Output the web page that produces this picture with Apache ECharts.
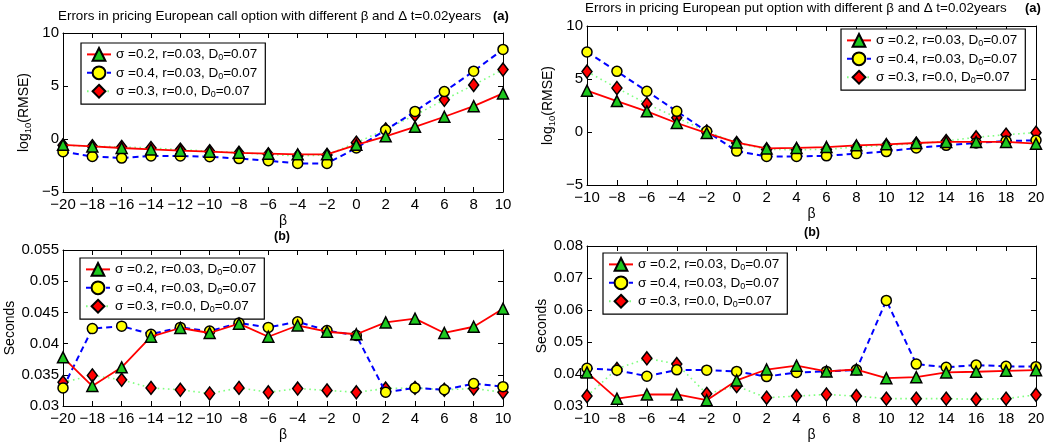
<!DOCTYPE html>
<html>
<head>
<meta charset="utf-8">
<script src="https://cdn.jsdelivr.net/npm/echarts@6/dist/echarts.min.js"></script>
<style>html,body{margin:0;padding:0;background:#fff}#c{width:1056px;height:443px}</style>
</head>
<body>
<div id="c"></div>
<script>
// ---- data ----
const betaCall = [-20,-18,-16,-14,-12,-10,-8,-6,-4,-2,0,2,4,6,8,10];
const betaPut  = [-10,-8,-6,-4,-2,0,2,4,6,8,10,12,14,16,18,20];
const seriesNames = ['σ =0.2, r=0.03, D0=0.07','σ =0.4, r=0.03, D0=0.07','σ =0.3, r=0.0, D0=0.07'];

// (a) call option log10(RMSE)
const callErrS02 = [-0.55,-0.7,-0.85,-0.98,-1.1,-1.2,-1.3,-1.38,-1.45,-1.45,-0.55,0.25,1.15,2.1,3.1,4.3];
const callErrS04 = [-1.2,-1.65,-1.8,-1.6,-1.6,-1.67,-1.85,-2.05,-2.3,-2.3,-0.85,0.85,2.6,4.47,6.4,8.45];
const callErrS03 = [-0.6,-0.68,-0.75,-0.85,-1.0,-1.15,-1.3,-1.45,-1.6,-1.5,-0.35,0.9,2.25,3.7,5.1,6.55];
// (a) put option log10(RMSE)
const putErrS02 = [3.9,2.92,1.95,0.85,-0.1,-1.0,-1.55,-1.5,-1.42,-1.26,-1.16,-1.04,-0.94,-0.94,-0.94,-1.1];
const putErrS04 = [7.55,5.72,3.84,1.95,0.06,-1.8,-2.3,-2.3,-2.25,-2.04,-1.85,-1.5,-1.26,-1.04,-0.85,-0.79];
const putErrS03 = [5.7,4.15,2.65,1.35,0.06,-1.04,-1.64,-1.67,-1.64,-1.42,-1.26,-1.1,-0.85,-0.5,-0.25,-0.06];
// (b) call option seconds
const callSecS02 = [0.0378,0.0332,0.0362,0.0411,0.0425,0.0417,0.0432,0.0411,0.0429,0.0419,0.0415,0.0434,0.0440,0.0417,0.0427,0.0456];
const callSecS04 = [0.0329,0.0424,0.0428,0.0415,0.0426,0.0420,0.0433,0.0426,0.0435,0.0421,0.0413,0.0322,0.0329,0.0326,0.0336,0.0331];
const callSecS03 = [0.0338,0.0349,0.0342,0.0329,0.0326,0.0320,0.0329,0.0322,0.0328,0.0325,0.0322,0.0328,0.0329,0.0326,0.0328,0.0322];
// (b) put option seconds
const putSecS02 = [0.0405,0.0323,0.0336,0.0336,0.0318,0.0380,0.0414,0.0426,0.0408,0.0414,0.0387,0.0390,0.0405,0.0407,0.0410,0.0412];
const putSecS04 = [0.0418,0.0412,0.0393,0.0413,0.0412,0.0408,0.0392,0.0405,0.0408,0.0413,0.0630,0.0431,0.0421,0.0428,0.0424,0.0423];
const putSecS03 = [0.0331,0.0416,0.0449,0.0431,0.0338,0.0362,0.0326,0.0331,0.0336,0.0331,0.0323,0.0323,0.0323,0.0321,0.0323,0.0335];

const titleCall = 'Errors in pricing European call option with different β and Δ t=0.02years';
const titlePut  = 'Errors in pricing European put option with different β and Δ t=0.02years';

// ---- chart ----
const FONT = 'Liberation Sans';
const TICKFONT = 'Liberation Sans';
const grids = [
  {left:63, top:33, width:440, height:159},
  {left:587, top:26, width:449, height:159},
  {left:63, top:250, width:440, height:157},
  {left:587, top:246, width:449, height:160}
];
const yCfg = [
  {min:-5,max:10,interval:5,name:'{a|log}{s|10}{a|(RMSE)}',gap:30},
  {min:-5,max:10,interval:5,name:'{a|log}{s|10}{a|(RMSE)}',gap:30},
  {min:0.03,max:0.055,interval:0.005,name:'{a|Seconds}',gap:41},
  {min:0.03,max:0.08,interval:0.01,name:'{a|Seconds}',gap:38}
];
const xCfg = [
  {min:-20,max:10},{min:-10,max:20},{min:-20,max:10},{min:-10,max:20}
];
const fmtX = v => (v<0?'\u2212':'') + Math.abs(v);
const fmtY = v => (v<0?'\u2212':'') + String(parseFloat(Math.abs(v).toFixed(4)));

const xAxis=[], yAxis=[];
grids.forEach((g,i)=>{
  const common = {type:'value', gridIndex:i, axisLine:{show:true,onZero:false,lineStyle:{color:'#000',width:1}},
    axisTick:{show:true,inside:true,length:5,lineStyle:{color:'#000'}}, splitLine:{show:false}};
  xAxis.push(Object.assign({}, common, {position:'bottom', min:xCfg[i].min, max:xCfg[i].max, interval:2,
    axisLabel:{color:'#000',fontFamily:TICKFONT,fontSize:15,margin:5,formatter:fmtX},
    name:'β', nameLocation:'middle', nameGap:22, nameTextStyle:{color:'#000',fontFamily:FONT,fontSize:14}}));
  xAxis.push(Object.assign({}, common, {position:'top', min:xCfg[i].min, max:xCfg[i].max, interval:2, axisLabel:{show:false}}));
  yAxis.push(Object.assign({}, common, {position:'left', min:yCfg[i].min, max:yCfg[i].max, interval:yCfg[i].interval,
    axisLabel:{color:'#000',fontFamily:TICKFONT,fontSize:15,margin:4,formatter:fmtY},
    name:yCfg[i].name, nameLocation:'middle', nameGap:yCfg[i].gap,
    nameTextStyle:{color:'#000', rich:{a:{fontFamily:FONT,fontSize:14,color:'#000'}, s:{fontFamily:FONT,fontSize:9.5,color:'#000',padding:[7,0,0,0]}}}}));
  yAxis.push(Object.assign({}, common, {position:'right', min:yCfg[i].min, max:yCfg[i].max, interval:yCfg[i].interval, axisLabel:{show:false}}));
});

const styles = [
  {symbol:'triangle', symbolSize:11, line:{color:'#ff0000',width:1.8,type:'solid'}, item:{color:'#1ec81e',borderColor:'#000',borderWidth:1.5}},
  {symbol:'circle', symbolSize:10, line:{color:'#0000ff',width:2,type:[6,4]}, item:{color:'#ffff00',borderColor:'#000',borderWidth:1.5}},
  {symbol:'diamond', symbolSize:[10,13], line:{color:'#80ff80',width:1.6,type:[1.6,3.5]}, item:{color:'#ff0000',borderColor:'#000',borderWidth:1.5}}
];
const dataSets = [
  [betaCall,[callErrS02,callErrS04,callErrS03]],
  [betaPut,[putErrS02,putErrS04,putErrS03]],
  [betaCall,[callSecS02,callSecS04,callSecS03]],
  [betaPut,[putSecS02,putSecS04,putSecS03]]
];
const series=[];
dataSets.forEach((ds,gi)=>{
  const xs=ds[0];
  ds[1].forEach((ys,si)=>{
    const st=styles[si];
    series.push({type:'line', name:seriesNames[si], xAxisIndex:gi*2, yAxisIndex:gi*2,
      data: xs.map((x,k)=>[x,ys[k]]), symbol:st.symbol, symbolSize:st.symbolSize, showAllSymbol:true,
      lineStyle:st.line, itemStyle:st.item, z:3-si+2, animation:false});
  });
});

const legendPos = [
  {left:81, top:43},
  {left:841, top:29},
  {left:80, top:258},
  {left:603, top:253}
];
const legendFmt = n => {
  const p = n.split('D0');
  return '{a|'+p[0]+'D}{s|0}{a|'+p[1]+'}';
};
const legend = legendPos.map(p=>({
  left:p.left, top:p.top, orient:'vertical', data:seriesNames, itemWidth:24, itemHeight:16, itemGap:3,
  padding:[4,8,5,5], borderColor:'#000', borderWidth:1.2, backgroundColor:'#fff', selectedMode:false,
  formatter:legendFmt,
  textStyle:{color:'#000', rich:{a:{fontFamily:FONT,fontSize:13.5,color:'#000'}, s:{fontFamily:FONT,fontSize:9,color:'#000',padding:[7,0,0,0]}}}
}));

const txt = (text,left,top,size,weight)=>({type:'text', left:left, top:top, style:{text:text, fill:'#000', font:(weight||'normal')+' '+size+'px "'+FONT+'"'}});
const graphic = [
  txt(titleCall,58,10,13.4), txt('(a)',493,10,13,'bold'),
  txt(titlePut,585,2,13.4), txt('(a)',1025,2,13,'bold'),
  txt('(b)',274,230,12.5,'bold'), txt('(b)',804,226,12.5,'bold')
];

const chart = echarts.init(document.getElementById('c'), null, {renderer:'canvas'});
chart.setOption({animation:false, backgroundColor:'#fff', grid:grids.map(g=>Object.assign({containLabel:false},g)),
  xAxis:xAxis, yAxis:yAxis, series:series, legend:legend, graphic:graphic});
</script>
</body>
</html>
